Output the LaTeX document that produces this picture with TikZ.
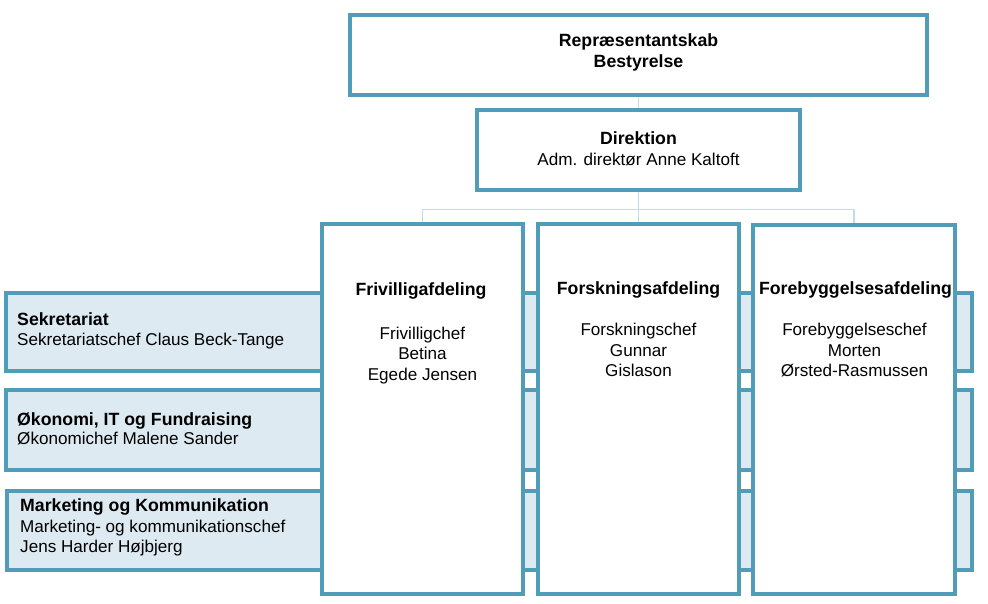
\documentclass[tikz,border=0pt]{standalone}
\usepackage{fontspec}
\setmainfont{Liberation Sans}
\usetikzlibrary{backgrounds}
\definecolor{bord}{RGB}{81,156,185}
\definecolor{bandfill}{RGB}{221,234,242}
\definecolor{connc}{RGB}{200,218,228}
\tikzset{
  box/.style={draw=bord, line width=4pt, fill=white, rectangle, inner sep=0pt},
  band/.style={draw=bord, line width=4pt, fill=bandfill, rectangle, inner sep=0pt},
  conn/.style={draw=connc, line width=1.5pt},
  ttl/.style={font=\fontsize{17.7}{21}\selectfont\bfseries, inner sep=0pt},
  sub/.style={font=\fontsize{17.1}{20.5}\selectfont, inner sep=0pt},
}
\begin{document}
\begin{tikzpicture}[x=1pt,y=-1pt]
\useasboundingbox (0,0) rectangle (988,603);
% bands
\node[band, minimum width=966pt, minimum height=78pt] (sek) at (489,332) {};
\node[band, minimum width=966pt, minimum height=80.5pt] (oko) at (489,429.75) {};
\node[band, minimum width=965pt, minimum height=79pt] (mark) at (489.5,530.5) {};
% boxes
\node[box, minimum width=577pt, minimum height=80pt] (top) at (638.5,54.5) {};
\node[box, minimum width=323pt, minimum height=80pt] (dir) at (638.5,150) {};
\node[box, minimum width=201pt, minimum height=370pt] (friv) at (422.5,409) {};
\node[box, minimum width=201pt, minimum height=370pt] (forsk) at (638.5,409) {};
\node[box, minimum width=202pt, minimum height=369pt] (foreb) at (854,409.5) {};
% connectors
\coordinate (hub) at (638.5,209.5);
\begin{scope}[on background layer]
\draw[conn] (top.south) -- (dir.north);
\draw[conn] (dir.south) -- (forsk.north);
\draw[conn] (friv.north) |- (hub) -| (foreb.north);
\end{scope}
% texts (multi-line nodes: base = last line)
\node[ttl, align=center, anchor=base] (topT) at (638.5,67.7) {Repræsentantskab\\Bestyrelse};
\node[ttl, anchor=base] (dirT) at (638.5,144) {Direktion};
\node[sub, anchor=base] (dirS) at (638.5,165) {Adm. direktør Anne Kaltoft};
\node[ttl, anchor=base] (frivT) at (421,295.7) {Frivilligafdeling};
\node[sub, align=center, anchor=base] (frivS) at (422.5,380) {Frivilligchef\\Betina\\Egede Jensen};
\node[ttl, anchor=base] (forskT) at (638.5,294.5) {Forskningsafdeling};
\node[sub, align=center, anchor=base] (forskS) at (638.5,376.5) {Forskningschef\\Gunnar\\Gislason};
\node[ttl, anchor=base] (forebT) at (855.5,294.5) {Forebyggelsesafdeling};
\node[sub, align=center, anchor=base] (forebS) at (854.5,376.5) {Forebyggelseschef\\Morten\\Ørsted-Rasmussen};
\node[ttl, anchor=base west] (sekT) at (17,325.7) {Sekretariat};
\node[sub, anchor=base west] (sekS) at (17,345.7) {Sekretariatschef Claus Beck-Tange};
\node[ttl, anchor=base west] (okoT) at (17,425) {Økonomi, IT og Fundraising};
\node[sub, anchor=base west] (okoS) at (17,444.5) {Økonomichef Malene Sander};
\node[ttl, anchor=base west] (markT) at (20,511.7) {Marketing og Kommunikation};
\node[sub, align=left, anchor=base west] (markS) at (20,552.5) {Marketing- og kommunikationschef\\Jens Harder Højbjerg};
\end{tikzpicture}
\end{document}
